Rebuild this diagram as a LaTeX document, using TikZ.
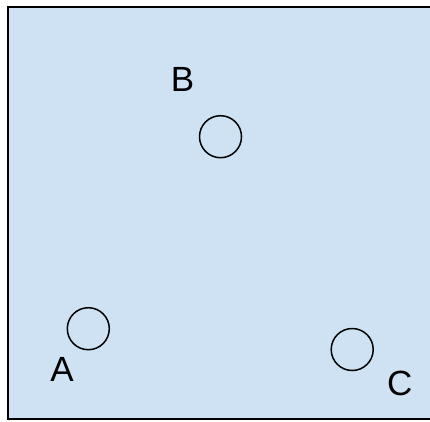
\documentclass[tikz,border=0pt]{standalone}
\usepackage{fontspec}
\setmainfont{Liberation Sans}
\usepackage{tikz}
\usetikzlibrary{positioning}
\definecolor{paneblue}{RGB}{207,226,243}

\begin{document}
\begin{tikzpicture}[
  x=1pt, y=-1pt,
  spot/.style={
    circle,
    draw=black,
    line width=1.5pt,
    minimum size=42pt,
    inner sep=0pt
  },
  tag/.style={
    inner sep=0pt,
    font=\fontsize{35}{40}\selectfont
  }
]
  \useasboundingbox (0,0) rectangle (430,421);
  % panel: fill runs off the right edge, border on three sides
  \fill[paneblue] (8,7) rectangle (430,419);
  \draw[line width=2pt] (430,7) -- (7.5,7) -- (7.5,419.3) -- (430,419.3);

  % the three points and their letters
  \node[spot] (b) at (220.5,136.7) {};
  \node[spot] (a) at (88.3,328.7) {};
  \node[spot] (c) at (352.2,349.5) {};

  \node[tag] (blabel) at (182.5,79.5) {B};
  \node[tag] (alabel) at (62,369.7) {A};
  \node[tag] (clabel) at (399.7,383.8) {C};
\end{tikzpicture}
\end{document}
